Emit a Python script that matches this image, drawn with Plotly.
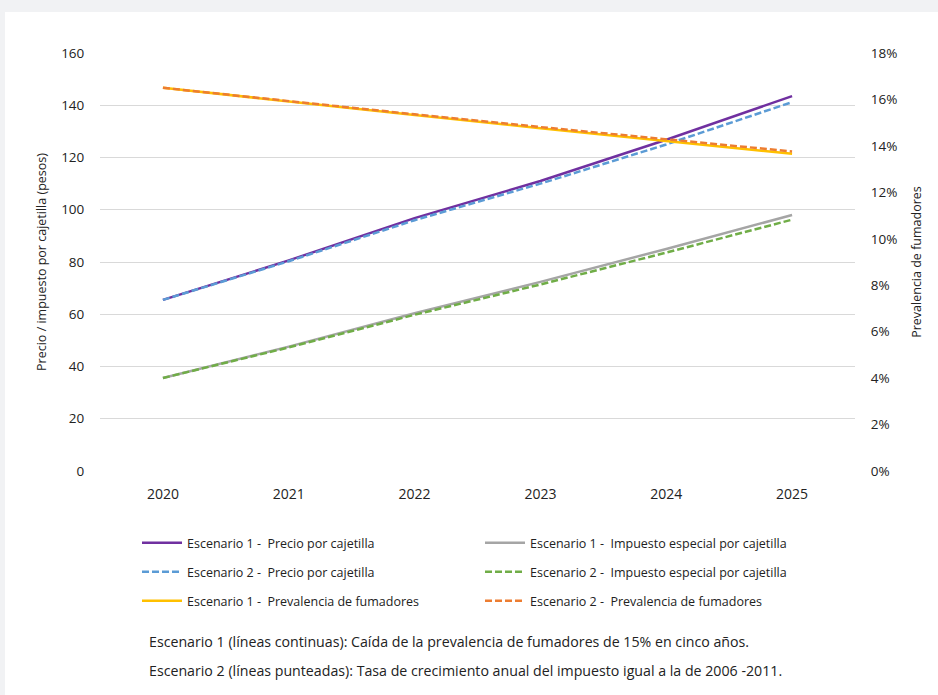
import plotly.graph_objects as go

# Años de la proyección
years = ["2020", "2021", "2022", "2023", "2024", "2025"]

# Precio por cajetilla (pesos)
precio_esc1 = [65.5, 80.6, 96.8, 111.0, 126.8, 143.5]
precio_esc2 = [65.5, 80.3, 96.0, 110.0, 125.0, 141.2]

# Impuesto especial por cajetilla (pesos)
impuesto_esc1 = [35.6, 47.6, 60.4, 72.4, 85.0, 98.0]
impuesto_esc2 = [35.6, 47.3, 59.8, 71.4, 83.6, 96.2]

# Prevalencia de fumadores (fracción)
prev_esc1 = [0.1650, 0.1590, 0.1533, 0.1476, 0.1420, 0.1366]
prev_esc2 = [0.1650, 0.1592, 0.1536, 0.1481, 0.1428, 0.1376]

left_ticks = [0, 20, 40, 60, 80, 100, 120, 140, 160]

FONT = "Open Sans"
TXT = "#222222"
DASH = "7px,3px"

fig = go.Figure()

def add(name, y, color, dash, legend, yaxis="y"):
    fig.add_trace(go.Scatter(
        x=years, y=y, name=name, mode="lines", yaxis=yaxis,
        line=dict(color=color, width=2.5, dash=dash),
        legend=legend, hoverinfo="skip",
    ))

add("Escenario 1 -  Precio por cajetilla", precio_esc1, "#7030a0", "solid", "legend")
add("Escenario 1 -  Impuesto especial por cajetilla", impuesto_esc1, "#a5a5a5", "solid", "legend")
add("Escenario 2 -  Precio por cajetilla", precio_esc2, "#5b9bd5", DASH, "legend2")
add("Escenario 2 -  Impuesto especial por cajetilla", impuesto_esc2, "#70ad47", DASH, "legend2")
add("Escenario 1 -  Prevalencia de fumadores", prev_esc1, "#ffc000", "solid", "legend3", "y2")
add("Escenario 2 -  Prevalencia de fumadores", prev_esc2, "#ed7d31", DASH, "legend3", "y2")

# draw order: keep dashed lines on top of the solid ones
fig.data = (fig.data[4], fig.data[0], fig.data[1], fig.data[5], fig.data[2], fig.data[3])

L, R, T, B = 100, 83, 53, 224
W, H = 938, 695
pw, ph = W - L - R, H - T - B

def px_x(x):
    return (x - L) / pw

def px_y(y):
    return (H - B - y) / ph

legend_common = dict(
    orientation="h", xanchor="left", yanchor="middle",
    x=px_x(137), entrywidth=288, itemwidth=40,
    font=dict(family=FONT, size=12.5, color=TXT),
    bgcolor="rgba(0,0,0,0)", traceorder="normal",
)

fig.update_layout(
    width=W, height=H,
    margin=dict(l=L, r=R, t=T, b=B),
    paper_bgcolor="#f1f2f4",
    plot_bgcolor="white",
    font=dict(family=FONT, size=12.5, color=TXT),
    showlegend=True,
    legend=dict(legend_common, y=px_y(543)),
    legend2=dict(legend_common, y=px_y(572)),
    legend3=dict(legend_common, y=px_y(601)),
    xaxis=dict(
        type="category", range=[-0.5, 5.5], showgrid=False, zeroline=False, showline=False,
        ticks="outside", ticklen=10, tickcolor="rgba(0,0,0,0)",
        tickfont=dict(family=FONT, size=14, color=TXT),
    ),
    yaxis=dict(
        range=[0, 160], tickvals=left_ticks, showgrid=True, gridcolor="#d9d9d9",
        gridwidth=1, zeroline=False, showline=False,
        ticks="outside", ticklen=12, tickcolor="rgba(0,0,0,0)",
        tickfont=dict(family=FONT, size=13.5, color=TXT),
        title=dict(text="Precio / impuesto por cajetilla (pesos)",
                   font=dict(family=FONT, size=12.5, color=TXT), standoff=11),
    ),
    yaxis2=dict(
        range=[0, 0.18], dtick=0.02, tickformat=".0%", overlaying="y", side="right",
        showgrid=False, zeroline=False, showline=False,
        ticks="outside", ticklen=12, tickcolor="rgba(0,0,0,0)",
        tickfont=dict(family=FONT, size=13.5, color=TXT),
        title=dict(text="Prevalencia de fumadores",
                   font=dict(family=FONT, size=12.5, color=TXT), standoff=15),
    ),
    shapes=[dict(
        type="rect", xref="paper", yref="paper", layer="below",
        x0=px_x(5), x1=px_x(W + 2), y0=px_y(H + 2), y1=px_y(12),
        fillcolor="white", line=dict(width=0),
    )],
    annotations=[
        dict(text="Escenario 1 (líneas continuas): Caída de la prevalencia de fumadores de 15% en cinco años.",
             xref="paper", yref="paper", x=px_x(147), y=px_y(641), xanchor="left", yanchor="middle",
             showarrow=False, font=dict(family=FONT, size=14.2, color=TXT)),
        dict(text="Escenario 2 (líneas punteadas): Tasa de crecimiento anual del impuesto igual a la de 2006 -2011.",
             xref="paper", yref="paper", x=px_x(147), y=px_y(670), xanchor="left", yanchor="middle",
             showarrow=False, font=dict(family=FONT, size=14.2, color=TXT)),
    ],
)

fig.write_html("out.html")
